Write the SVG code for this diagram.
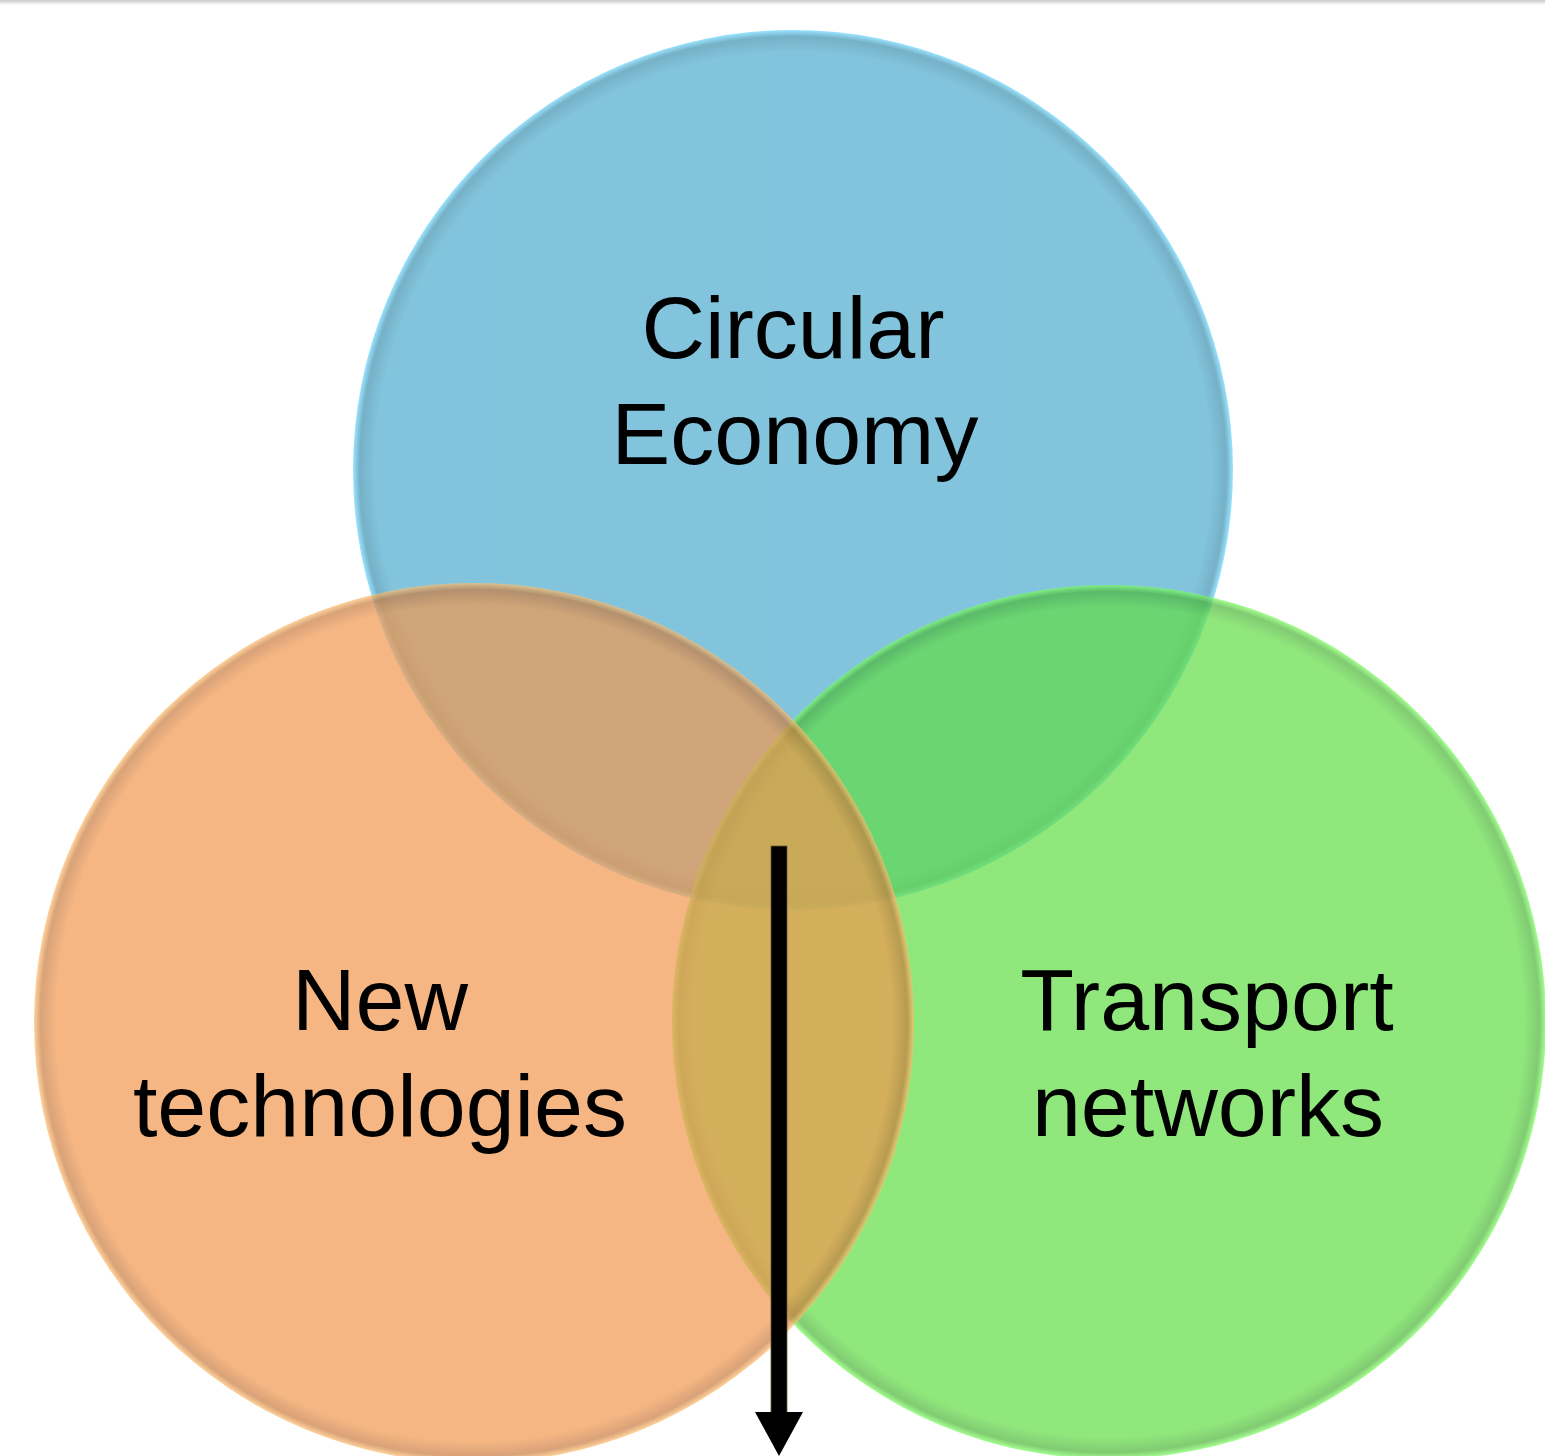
<svg xmlns="http://www.w3.org/2000/svg" width="1545" height="1456" viewBox="0 0 1545 1456">
  <style>
    .lbl { font-family: "Liberation Sans", Arial, sans-serif; font-size: 88px; fill: #000; text-anchor: middle; }
    .circ { opacity: 0.7; }
  </style>
  <defs>
    <linearGradient id="topbar" x1="0" y1="0" x2="0" y2="1">
      <stop offset="0" stop-color="#c8c8c8"/>
      <stop offset="1" stop-color="#ffffff"/>
    </linearGradient>
    <radialGradient id="gBlue" cx="0.5" cy="0.5" r="0.5">
      <stop offset="0" stop-color="#4cabce"/>
      <stop offset="0.95" stop-color="#4cabce"/>
      <stop offset="0.985" stop-color="#3a8fae"/>
      <stop offset="1" stop-color="#6fd8ff"/>
    </radialGradient>
    <radialGradient id="gOrange" cx="0.5" cy="0.5" r="0.5">
      <stop offset="0" stop-color="#f1974e"/>
      <stop offset="0.95" stop-color="#f1974e"/>
      <stop offset="0.985" stop-color="#c97a3e"/>
      <stop offset="1" stop-color="#ffc070"/>
    </radialGradient>
    <radialGradient id="gGreen" cx="0.5" cy="0.5" r="0.5">
      <stop offset="0" stop-color="#60dd44"/>
      <stop offset="0.95" stop-color="#60dd44"/>
      <stop offset="0.985" stop-color="#4bb536"/>
      <stop offset="1" stop-color="#7dff60"/>
    </radialGradient>
    <marker id="arrowhead" markerWidth="3" markerHeight="2.75" refX="0" refY="1.375" orient="auto" markerUnits="strokeWidth">
      <path d="M0,0 L2.75,1.375 L0,2.75 Z" fill="#000"/>
    </marker>
  </defs>
  <rect x="0" y="0" width="1545" height="1456" fill="#ffffff"/>
  <rect x="0" y="0" width="1545" height="5" fill="url(#topbar)"/>

  <g id="node-circular-economy">
    <circle class="circ" cx="793" cy="470" r="440" fill="url(#gBlue)"/>
    <text class="lbl" x="793" y="358">Circular</text>
    <text class="lbl" x="795" y="464">Economy</text>
  </g>
  <g id="node-transport-networks">
    <circle class="circ" cx="1109" cy="1022" r="437" fill="url(#gGreen)"/>
    <text class="lbl" x="1207" y="1030">Transport</text>
    <text class="lbl" x="1208" y="1136">networks</text>
  </g>
  <g id="node-new-technologies">
    <circle class="circ" cx="474" cy="1023" r="440" fill="url(#gOrange)"/>
    <text class="lbl" x="380" y="1030">New</text>
    <text class="lbl" x="380" y="1136">technologies</text>
  </g>

  <g id="connectors">
    <rect x="771" y="846" width="16" height="568" fill="#000" stroke="#6b5a2a" stroke-width="0.8"/>
    <path d="M755,1412 L803,1412 L779,1456 Z" fill="#000"/>
  </g>
</svg>
